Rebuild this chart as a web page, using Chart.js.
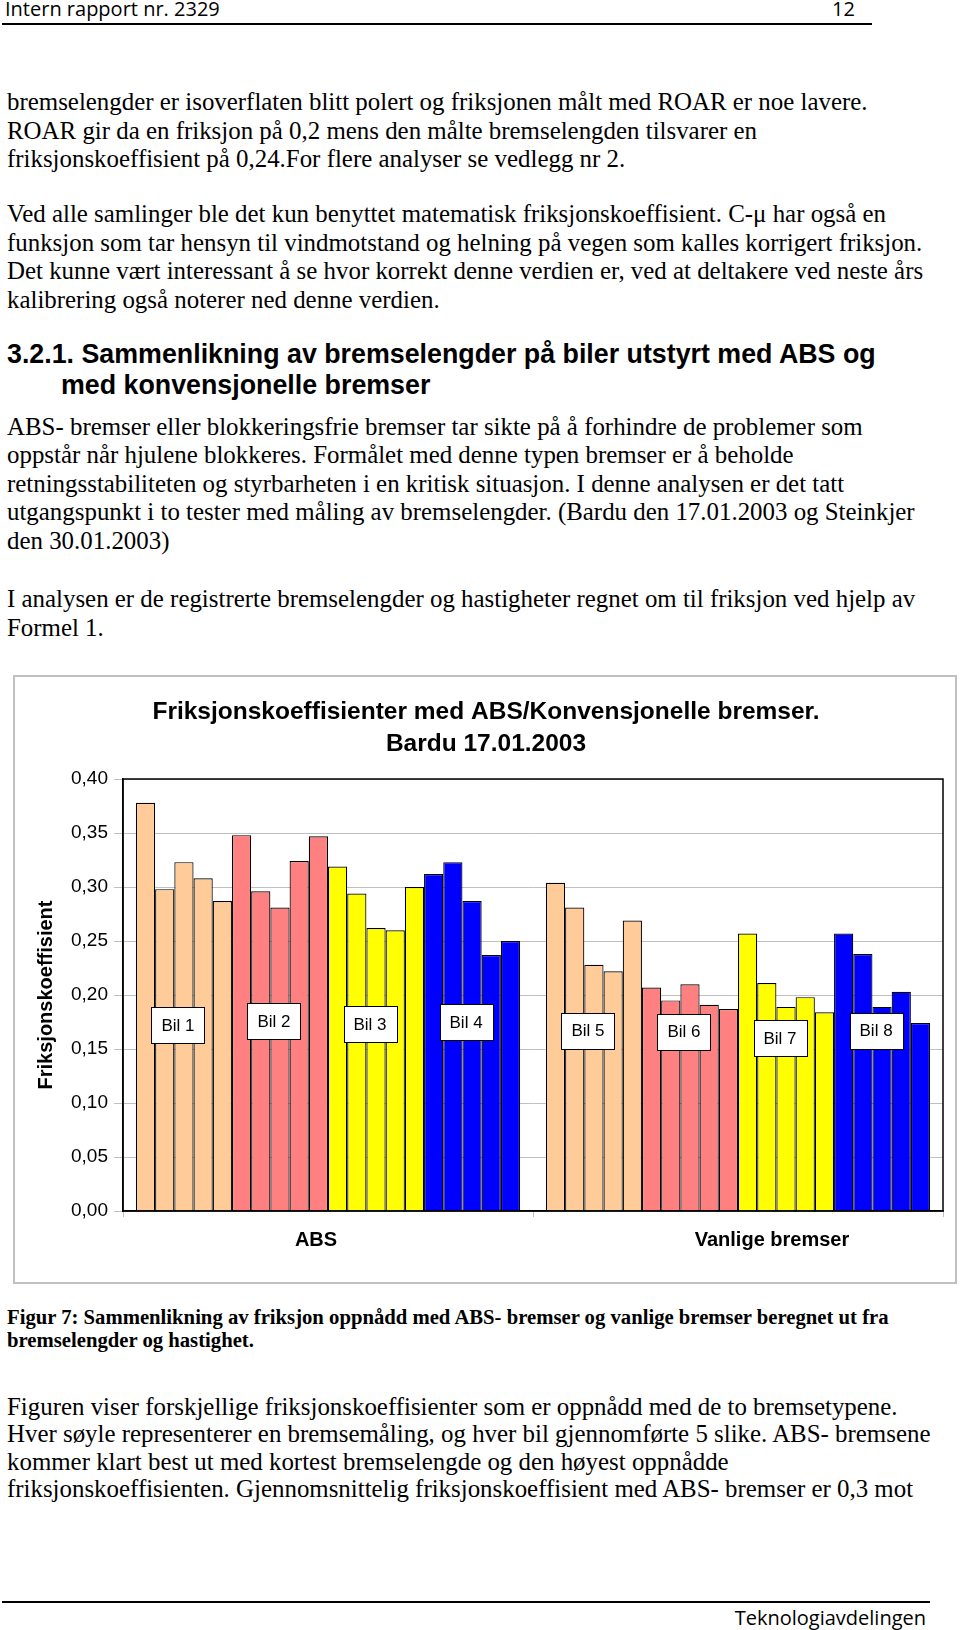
<!DOCTYPE html>
<html>
<head>
<meta charset="utf-8">
<title>Intern rapport nr. 2329</title>
<script src="https://cdn.jsdelivr.net/npm/chart.js"></script>
<style>
  body { margin: 0; width: 960px; height: 1630px; position: relative; background: #fff; overflow: hidden; color: #000; }
  .l { position: absolute; left: 7px; white-space: nowrap; font-family: 'Liberation Serif', 'Times New Roman', serif; font-size: 24.9px; line-height: 28.3px; }
  .h { font-family: 'Liberation Sans', Arial, sans-serif; font-weight: bold; font-size: 26.8px; line-height: 31px; }
  .cap { font-weight: bold; font-size: 20.7px; line-height: 23px; }
  .sans { position: absolute; white-space: nowrap; font-family: 'Open Sans', sans-serif; font-size: 20px; line-height: 20px; }
  .rule { position: absolute; left: 2px; height: 2px; background: #000; }
  #box { position: absolute; left: 13px; top: 675px; width: 940px; height: 605px; border: 2px solid #c0c0c0; }
</style>
</head>
<body>

<div class="sans" style="left:5px; top:-1px;">Intern rapport nr. 2329</div>
<div class="sans" style="left:832px; top:-1px;">12</div>
<div class="rule" style="top:23px; width:870px;"></div>

<div class="l" style="top:88px; line-height:28.6px;">bremselengder er isoverflaten blitt polert og friksjonen målt med ROAR er noe lavere.<br>ROAR gir da en friksjon på 0,2 mens den målte bremselengden tilsvarer en<br>friksjonskoeffisient på 0,24.For flere analyser se vedlegg nr 2.</div>

<div class="l" style="top:200px; line-height:28.5px;">Ved alle samlinger ble det kun benyttet matematisk friksjonskoeffisient. C-μ har også en<br>funksjon som tar hensyn til vindmotstand og helning på vegen som kalles korrigert friksjon.<br>Det kunne vært interessant å se hvor korrekt denne verdien er, ved at deltakere ved neste års<br>kalibrering også noterer ned denne verdien.</div>

<div class="l h" style="top:339px;">3.2.1. Sammenlikning av bremselengder på biler utstyrt med ABS og<br><span style="padding-left:54px;">med konvensjonelle bremser</span></div>

<div class="l" style="top:413px; line-height:28.4px;">ABS- bremser eller blokkeringsfrie bremser tar sikte på å forhindre de problemer som<br>oppstår når hjulene blokkeres. Formålet med denne typen bremser er å beholde<br>retningsstabiliteten og styrbarheten i en kritisk situasjon. I denne analysen er det tatt<br>utgangspunkt i to tester med måling av bremselengder. (Bardu den 17.01.2003 og Steinkjer<br>den 30.01.2003)</div>

<div class="l" style="top:585px; line-height:28.6px;">I analysen er de registrerte bremselengder og hastigheter regnet om til friksjon ved hjelp av<br>Formel 1.</div>

<div id="box"><canvas id="frictionChart" width="940" height="605"></canvas></div>

<div class="l cap" style="top:1306px;">Figur 7: Sammenlikning av friksjon oppnådd med ABS- bremser og vanlige bremser beregnet ut fra<br>bremselengder og hastighet.</div>

<div class="l" style="top:1393px; line-height:27.4px;">Figuren viser forskjellige friksjonskoeffisienter som er oppnådd med de to bremsetypene.<br>Hver søyle representerer en bremsemåling, og hver bil gjennomførte 5 slike. ABS- bremsene<br>kommer klart best ut med kortest bremselengde og den høyest oppnådde<br>friksjonskoeffisienten. Gjennomsnittelig friksjonskoeffisient med ABS- bremser er 0,3 mot</div>

<div class="rule" style="top:1601px; width:928px;"></div>
<div class="sans" style="right:34px; top:1608px;">Teknologiavdelingen</div>

<script>
// Chart data
const categories = ['ABS', 'Vanlige bremser'];
const carNames = ['Bil 1', 'Bil 2', 'Bil 3', 'Bil 4', 'Bil 5', 'Bil 6', 'Bil 7', 'Bil 8'];
const titleLines = ['Friksjonskoeffisienter med ABS/Konvensjonelle bremser.', 'Bardu 17.01.2003'];
const axisTitle = 'Friksjonskoeffisient';

// 5 runs per car, cars 1-4 on ABS, cars 5-8 on ordinary brakes
const absValues = [
    0.378, 0.298, 0.323, 0.308, 0.287,   // Bil 1
    0.348, 0.296, 0.281, 0.324, 0.347,   // Bil 2
    0.319, 0.294, 0.262, 0.260, 0.300,   // Bil 3
    0.312, 0.323, 0.287, 0.237, 0.250    // Bil 4
];
const vanligeValues = [
    0.304, 0.281, 0.228, 0.222, 0.269,   // Bil 5
    0.207, 0.195, 0.210, 0.191, 0.187,   // Bil 6
    0.257, 0.211, 0.189, 0.198, 0.184,   // Bil 7
    0.257, 0.238, 0.189, 0.203, 0.174    // Bil 8
];
// value level where each "Bil n" box sits
const labelLevels = [0.172, 0.176, 0.173, 0.175, 0.167, 0.166, 0.160, 0.167];

const carColors = ['#FFCC99', '#FF8080', '#FFFF00', '#0000FF'];
const fontFamily = '"Liberation Sans", Arial, sans-serif';

Chart.defaults.font.family = fontFamily;
Chart.defaults.color = '#000';

// one dataset per run so every bar gets its own outline
const datasets = absValues.map((v, i) => ({
    label: 'Run ' + (i + 1),
    data: [v, vanligeValues[i]],
    backgroundColor: carColors[Math.floor(i / 5)],
    borderColor: '#000',
    borderWidth: 1.2,
    borderSkipped: 'bottom'
}));

// black frame round the plot area
const framePlugin = {
    id: 'frame',
    afterDatasetsDraw(chart) {
        const a = chart.chartArea;
        const ctx = chart.ctx;
        ctx.save();
        ctx.strokeStyle = '#000';
        ctx.lineWidth = 1.5;
        ctx.strokeRect(a.left, a.top, a.right - a.left, a.bottom - a.top);
        ctx.restore();
    }
};

// "Bil n" boxes over each group of five bars
const carLabelPlugin = {
    id: 'carLabels',
    afterDatasetsDraw(chart) {
        const ctx = chart.ctx;
        const yScale = chart.scales.y;
        ctx.save();
        ctx.font = '17px ' + fontFamily;
        ctx.textAlign = 'center';
        ctx.textBaseline = 'middle';
        carNames.forEach((name, c) => {
            const cat = c < 4 ? 0 : 1;
            const first = (c % 4) * 5;
            let sum = 0;
            for (let j = first; j < first + 5; j++) {
                sum += chart.getDatasetMeta(j).data[cat].x;
            }
            const cx = sum / 5 - 6;
            const cy = yScale.getPixelForValue(labelLevels[c]);
            const w = Math.round(ctx.measureText(name).width + 20);
            const h = 36;
            const x0 = Math.round(cx - w / 2) + 0.5;
            const y0 = Math.round(cy - h / 2) + 0.5;
            ctx.fillStyle = '#fff';
            ctx.fillRect(x0, y0, w, h);
            ctx.strokeStyle = '#000';
            ctx.lineWidth = 1;
            ctx.strokeRect(x0, y0, w, h);
            ctx.fillStyle = '#000';
            ctx.fillText(name, cx, cy + 1);
        });
        ctx.restore();
    }
};

// category names under the axis, nudged the way the original sits
const categoryLabelPlugin = {
    id: 'categoryLabels',
    afterDraw(chart) {
        const ctx = chart.ctx;
        const x = chart.scales.x;
        const shift = [-12, 34];
        ctx.save();
        ctx.font = 'bold 20px ' + fontFamily;
        ctx.fillStyle = '#000';
        ctx.textAlign = 'center';
        ctx.textBaseline = 'middle';
        categories.forEach((c, i) => ctx.fillText(c, x.getPixelForValue(i) + shift[i], chart.chartArea.bottom + 29));
        ctx.restore();
    }
};

// two-line bold title centred on the canvas
const titlePlugin = {
    id: 'twoLineTitle',
    afterDraw(chart) {
        const ctx = chart.ctx;
        ctx.save();
        ctx.font = 'bold 24.5px ' + fontFamily;
        ctx.fillStyle = '#000';
        ctx.textAlign = 'center';
        ctx.textBaseline = 'middle';
        titleLines.forEach((t, i) => ctx.fillText(t, 471, 35 + i * 32.5));
        ctx.restore();
    }
};

const ctx = document.getElementById('frictionChart').getContext('2d');

new Chart(ctx, {
    type: 'bar',
    data: {
        labels: categories,
        datasets: datasets
    },
    options: {
        responsive: false,
        animation: false,
        layout: { padding: { top: 102, right: 12, left: 0, bottom: 0 } },
        datasets: { bar: { barPercentage: 1.0, categoryPercentage: 0.937 } },
        plugins: {
            legend: { display: false },
            tooltip: { enabled: false },
            title: { display: false }
        },
        scales: {
            x: {
                grid: { display: true, drawOnChartArea: false, drawTicks: true, tickLength: 6, color: '#c0c0c0', offset: true },
                border: { display: true, color: '#000', width: 1.5 },
                ticks: { display: false },
                afterFit: scale => { scale.height = 71; }
            },
            y: {
                min: 0,
                max: 0.4,
                ticks: {
                    stepSize: 0.05,
                    color: '#000',
                    font: { size: 19 },
                    padding: 6,
                    callback: v => v.toFixed(2).replace('.', ',')
                },
                grid: { color: '#c0c0c0', lineWidth: 1, tickLength: 9 },
                border: { color: '#000', width: 1.5 },
                title: {
                    display: true,
                    text: axisTitle,
                    color: '#000',
                    font: { size: 20, weight: 'bold' },
                    padding: { top: 19, bottom: 0 }
                },
                afterFit: scale => { scale.width = 108; }
            }
        }
    },
    plugins: [framePlugin, carLabelPlugin, categoryLabelPlugin, titlePlugin]
});
</script>
</body>
</html>
